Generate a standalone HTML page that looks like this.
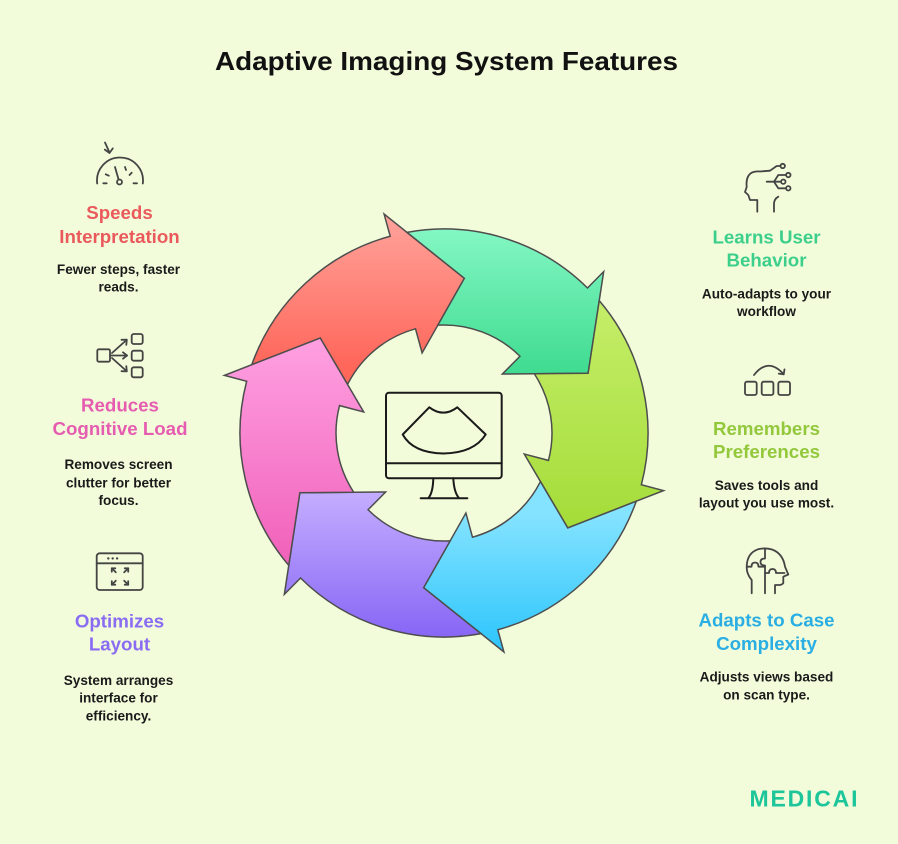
<!DOCTYPE html>
<html>
<head>
<meta charset="utf-8">
<style>
  html,body{margin:0;padding:0;background:#f2fcda;}
  svg{display:block;}
  .h{font-family:"Liberation Sans",Arial,sans-serif;font-weight:bold;font-size:18.7px;text-anchor:middle;}
  .d{font-family:"Liberation Sans",Arial,sans-serif;font-weight:bold;font-size:13.6px;text-anchor:middle;fill:#1a1a1a;}
  .ic{fill:none;stroke:#444;stroke-width:1.8;stroke-linecap:round;stroke-linejoin:round;}
</style>
</head>
<body>
<svg width="898" height="844" viewBox="0 0 898 844" xmlns="http://www.w3.org/2000/svg">
  <rect x="0" y="0" width="898" height="844" fill="#f2fcda"/>
  <defs>
    <path id="arr" d="M42.59,-199.51 A204,204 0 0 1 188.06,-79.05 L209.26,-87.97 L156,0 L76.51,-32.16 L99.56,-41.85 A108,108 0 0 0 35.57,-101.97 L78,-135.10 Z"/>
    <linearGradient id="gRed" gradientUnits="userSpaceOnUse" x1="0" y1="-220" x2="0" y2="-69" gradientTransform="rotate(82.5)">
      <stop offset="0" stop-color="#ffa49c"/><stop offset="1" stop-color="#ff675b"/>
    </linearGradient>
    <linearGradient id="gGreen" gradientUnits="userSpaceOnUse" x1="0" y1="-205" x2="0" y2="-59" gradientTransform="rotate(22.5)">
      <stop offset="0" stop-color="#84f7c4"/><stop offset="1" stop-color="#3fdb90"/>
    </linearGradient>
    <linearGradient id="gLime" gradientUnits="userSpaceOnUse" x1="0" y1="-160" x2="0" y2="97" gradientTransform="rotate(-37.5)">
      <stop offset="0" stop-color="#c9f06f"/><stop offset="1" stop-color="#a4dc38"/>
    </linearGradient>
    <linearGradient id="gBlue" gradientUnits="userSpaceOnUse" x1="0" y1="82" x2="0" y2="221" gradientTransform="rotate(-97.5)">
      <stop offset="0" stop-color="#84e3ff"/><stop offset="1" stop-color="#2ac4fb"/>
    </linearGradient>
    <linearGradient id="gPurple" gradientUnits="userSpaceOnUse" x1="0" y1="60" x2="0" y2="204" gradientTransform="rotate(-157.5)">
      <stop offset="0" stop-color="#c4adff"/><stop offset="1" stop-color="#8766f5"/>
    </linearGradient>
    <linearGradient id="gPink" gradientUnits="userSpaceOnUse" x1="0" y1="-94" x2="0" y2="163" gradientTransform="rotate(-217.5)">
      <stop offset="0" stop-color="#ffa0e2"/><stop offset="1" stop-color="#ee58b3"/>
    </linearGradient>
  </defs>

  <!-- Title -->
  <text x="446.5" y="70" font-family="'Liberation Sans',Arial,sans-serif" font-weight="bold" font-size="26" text-anchor="middle" fill="#111" textLength="463" lengthAdjust="spacingAndGlyphs">Adaptive Imaging System Features</text>

  <!-- Cycle arrows -->
  <g transform="translate(444,433)" stroke="#4d4d4d" stroke-width="1.5" stroke-linejoin="miter">
    <use href="#arr" transform="rotate(-82.5)" fill="url(#gRed)"/>
    <use href="#arr" transform="rotate(-22.5)" fill="url(#gGreen)"/>
    <use href="#arr" transform="rotate(37.5)" fill="url(#gLime)"/>
    <use href="#arr" transform="rotate(97.5)" fill="url(#gBlue)"/>
    <use href="#arr" transform="rotate(157.5)" fill="url(#gPurple)"/>
    <use href="#arr" transform="rotate(217.5)" fill="url(#gPink)"/>
  </g>

  <!-- Monitor icon -->
  <g fill="none" stroke="#1a1a1a" stroke-width="2" stroke-linecap="round" stroke-linejoin="round">
    <rect x="386" y="392.7" width="115.7" height="85.6" rx="3"/>
    <line x1="386" y1="463.3" x2="501.7" y2="463.3"/>
    <path d="M433.3 478.3 Q433 492 428.7 497.7"/>
    <path d="M453.3 478.3 Q454 492 458.7 497.7"/>
    <line x1="420.7" y1="498.3" x2="467.3" y2="498.3"/>
    <path d="M429.3 407.3 Q443.3 418 457.3 407.3 L485.7 434.5 Q474 453 443.5 453.5 Q413 453 402.7 434.5 Z"/>
  </g>

  <!-- Left: Speeds Interpretation -->
  <g class="ic">
    <path d="M97.2 183.5 A23 23 0 1 1 142.8 183.5"/>
    <circle cx="119.5" cy="182" r="2.5"/>
    <line x1="118.6" y1="179.6" x2="115" y2="167"/>
    <line x1="105.7" y1="174.3" x2="108.8" y2="175.7"/>
    <line x1="125" y1="167" x2="126" y2="170"/>
    <line x1="131.7" y1="172.7" x2="129.5" y2="175"/>
    <line x1="103.3" y1="183.3" x2="106.7" y2="183.3"/>
    <line x1="133.5" y1="183.3" x2="137" y2="183.3"/>
    <line x1="105" y1="142.5" x2="109.5" y2="152.5"/>
    <polyline points="104.8,149.6 109.5,153 112.8,148.4"/>
  </g>
  <text class="h" x="119.5" y="219" fill="#ea5a5c">Speeds</text>
  <text class="h" x="119.5" y="243" fill="#ea5a5c">Interpretation</text>
  <text class="d" x="118.5" y="274">Fewer steps, faster</text>
  <text class="d" x="118.5" y="291.5">reads.</text>

  <!-- Left: Reduces Cognitive Load -->
  <g class="ic">
    <rect x="97.3" y="349.3" width="12.7" height="12.4" rx="1.5"/>
    <rect x="131.7" y="334" width="11" height="10" rx="2"/>
    <rect x="131.7" y="350.7" width="11" height="10" rx="2"/>
    <rect x="131.7" y="367.3" width="11" height="10" rx="2"/>
    <line x1="110" y1="355.5" x2="127" y2="355.5"/>
    <polyline points="123,352.3 127,355.5 123,358.7"/>
    <line x1="112" y1="353" x2="126.5" y2="340"/>
    <polyline points="121.5,339.8 126.8,339.6 126.3,344.8"/>
    <line x1="112" y1="358" x2="126.5" y2="371"/>
    <polyline points="121.5,371.2 126.8,371.4 126.3,366.2"/>
  </g>
  <text class="h" x="120" y="411.5" fill="#e65cb0">Reduces</text>
  <text class="h" x="120" y="435" fill="#e65cb0">Cognitive Load</text>
  <text class="d" x="118.5" y="469">Removes screen</text>
  <text class="d" x="118.5" y="487.3">clutter for better</text>
  <text class="d" x="118.5" y="505">focus.</text>

  <!-- Left: Optimizes Layout -->
  <g class="ic">
    <rect x="96.7" y="553.3" width="46" height="36.7" rx="3"/>
    <line x1="96.7" y1="563.3" x2="142.7" y2="563.3"/>
    <line x1="115.8" y1="572.3" x2="111.8" y2="568.3"/>
    <polyline points="111.8,571.8 111.8,568.3 115.3,568.3"/>
    <line x1="124.2" y1="572.3" x2="128.2" y2="568.3"/>
    <polyline points="124.7,568.3 128.2,568.3 128.2,571.8"/>
    <line x1="115.8" y1="580.7" x2="111.8" y2="584.7"/>
    <polyline points="111.8,581.2 111.8,584.7 115.3,584.7"/>
    <line x1="124.2" y1="580.7" x2="128.2" y2="584.7"/>
    <polyline points="124.7,584.7 128.2,584.7 128.2,581.2"/>
  </g>
  <g fill="#444">
    <circle cx="108.3" cy="558.4" r="1.2"/>
    <circle cx="112.7" cy="558.4" r="1.2"/>
    <circle cx="117.1" cy="558.4" r="1.2"/>
  </g>
  <text class="h" x="119.5" y="627.3" fill="#8a6cf2">Optimizes</text>
  <text class="h" x="119.5" y="650.7" fill="#8a6cf2">Layout</text>
  <text class="d" x="118.5" y="685">System arranges</text>
  <text class="d" x="118.5" y="702.7">interface for</text>
  <text class="d" x="118.5" y="720.7">efficiency.</text>

  <!-- Right: Learns User Behavior -->
  <g class="ic">
    <path d="M757.3 211.7 V200 H750 L748.3 195 L745 192 L746.7 187 Q745.5 176 752 172.5 Q756 171 760 171.5 L770 170.7"/>
    <path d="M770 170.7 L776.7 166 H780.5"/>
    <path d="M778.3 196.7 Q774 199 774 204 V211.7"/>
    <line x1="766.7" y1="181.7" x2="781" y2="181.7"/>
    <path d="M774 181.7 L778.3 175 H786"/>
    <path d="M774 181.7 L778.3 188.3 H786"/>
    <circle cx="782.7" cy="166" r="2.2"/>
    <circle cx="788.3" cy="175" r="2.2"/>
    <circle cx="783.3" cy="181.7" r="2.2"/>
    <circle cx="788.3" cy="188.3" r="2.2"/>
  </g>
  <text class="h" x="766.5" y="243.3" fill="#3ccf8b">Learns User</text>
  <text class="h" x="766.5" y="266.7" fill="#3ccf8b">Behavior</text>
  <text class="d" x="766.5" y="298.3">Auto-adapts to your</text>
  <text class="d" x="766.5" y="316">workflow</text>

  <!-- Right: Remembers Preferences -->
  <g class="ic">
    <rect x="745" y="381.7" width="11.7" height="13.3" rx="2"/>
    <rect x="761.7" y="381.7" width="11.7" height="13.3" rx="2"/>
    <rect x="778.3" y="381.7" width="11.7" height="13.3" rx="2"/>
    <path d="M754 375 Q768 357 783.5 374"/>
    <polyline points="778.8,373.6 783.7,374.4 784.5,369.4"/>
  </g>
  <text class="h" x="766.5" y="435" fill="#93c83c">Remembers</text>
  <text class="h" x="766.5" y="458" fill="#93c83c">Preferences</text>
  <text class="d" x="766.5" y="490">Saves tools and</text>
  <text class="d" x="766.5" y="507.7">layout you use most.</text>

  <!-- Right: Adapts to Case Complexity -->
  <g class="ic">
    <path d="M751.7 593.3 V580 Q746.5 574 746.7 566.7 Q747 553 758 549.3 Q765 547.5 772 549.5 Q783 553.5 785 566.7 L788.3 574.5 L783.3 576.7 V583 Q782 585 779 585 H775 V593.3"/>
    <path d="M765 548.3 V558.5 Q760.5 558.5 760.5 562 Q760.5 565.5 765 565.5 V593.3"/>
    <path d="M746.9 566.7 H751.5 Q751.5 562.5 755 562.5 Q758.5 562.5 758.5 566.7 H765"/>
    <path d="M765 573 H769 Q769 569 772.5 569 Q776 569 776 573 H784.5"/>
  </g>
  <text class="h" x="766.5" y="626.7" fill="#2aaee3">Adapts to Case</text>
  <text class="h" x="766.5" y="650" fill="#2aaee3">Complexity</text>
  <text class="d" x="766.5" y="681.7">Adjusts views based</text>
  <text class="d" x="766.5" y="699.3">on scan type.</text>

  <!-- Logo -->
  <text x="749.5" y="806.5" font-family="'Liberation Sans',Arial,sans-serif" font-weight="bold" font-size="23" fill="#1dc69a" textLength="108" lengthAdjust="spacing">MEDICAI</text>
</svg>
</body>
</html>
